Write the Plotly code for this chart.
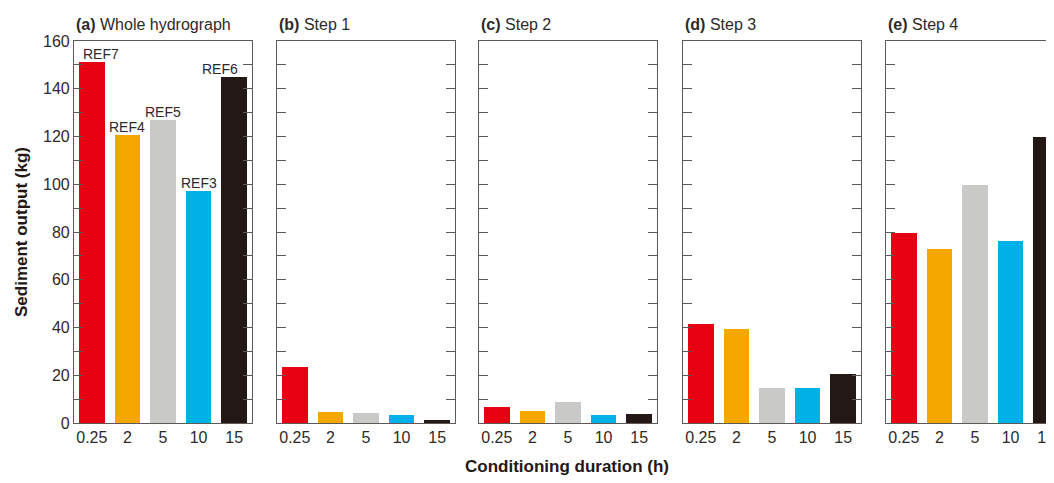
import plotly.graph_objects as go

categories = ["0.25", "2", "5", "10", "15"]
colors = ["#E60012", "#F5A700", "#C9C9C7", "#00B1E7", "#231815"]
panel_titles = ["(a)", "(b)", "(c)", "(d)", "(e)"]
panel_names = ["Whole hydrograph", "Step 1", "Step 2", "Step 3", "Step 4"]
whole = [151.0, 120.5, 127.0, 97.0, 145.0]
step1 = [23.3, 4.5, 4.0, 3.5, 1.2]
step2 = [6.8, 4.9, 8.7, 3.2, 3.8]
step3 = [41.4, 39.2, 14.8, 14.6, 20.6]
step4 = [79.6, 72.8, 99.6, 76.3, 120.0]
ref_labels = ["REF7", "REF4", "REF5", "REF3", "REF6"]
y_ticks = list(range(0, 161, 10))
y_ticktext = [str(v) if v % 20 == 0 else "" for v in y_ticks]

series = [whole, step1, step2, step3, step4]

# page has an 8px body margin; work in page pixels and convert
OFF = 8
PAGE_W, PAGE_H = 1054, 483
W, H = PAGE_W - OFF, PAGE_H - 2 * OFF


def fx(px):
    return (px - OFF) / W


def fy(py):
    return 1 - (py - OFF) / H


px_left = [74, 277, 479, 683, 886]
panel_w = 178
slot = panel_w / 5.0
top_px, bot_px = 41, 423
line_col = "#5e5858"
text_col = "#2e2a29"
FONT = "Liberation Sans, Arial, Helvetica, sans-serif"

fig = go.Figure()
for i, vals in enumerate(series):
    ax = "" if i == 0 else str(i + 1)
    fig.add_trace(go.Bar(
        x=categories, y=vals, marker=dict(color=colors, line=dict(width=0)),
        width=0.72, xaxis="x" + ax, yaxis="y" + ax, showlegend=False,
        hoverinfo="x+y"))
    x0 = px_left[i]
    x1 = min(x0 + panel_w, PAGE_W)
    xr_end = -0.5 + (x1 - x0) / slot
    last = (x0 + panel_w > PAGE_W)
    fig.layout["xaxis" + ax] = dict(
        domain=[fx(x0), fx(x1)], anchor="y" + ax, type="category",
        range=[-0.5, xr_end], showline=True, mirror=True, linecolor=line_col,
        linewidth=1.2, ticks="", showgrid=False, zeroline=False,
        automargin=False, ticklabeloverflow="allow",
        tickfont=dict(family=FONT, size=16, color=text_col))
    fig.layout["yaxis" + ax] = dict(
        domain=[fy(bot_px), fy(top_px)], anchor="x" + ax,
        range=[0, 160], showline=True, mirror=(False if last else "ticks"),
        linecolor=line_col, linewidth=1.2, ticks="inside", ticklen=9,
        tickwidth=1.2, tickcolor=line_col, tickmode="array",
        tickvals=y_ticks, ticktext=y_ticktext, showticklabels=(i == 0),
        showgrid=False, zeroline=False, automargin=False,
        tickfont=dict(family=FONT, size=16, color=text_col))

annotations = []
for i in range(5):
    annotations.append(dict(
        xref="paper", yref="paper", x=fx(px_left[i]), y=fy(35),
        xanchor="left", yanchor="bottom", showarrow=False,
        text="<b>" + panel_titles[i] + "</b> " + panel_names[i],
        font=dict(family=FONT, size=16, color=text_col)))

shifts = [9, 0, 0, 0, -14]
for j, lab in enumerate(ref_labels):
    annotations.append(dict(
        xref="x", yref="y", x=j, y=whole[j], xanchor="center",
        yanchor="bottom", showarrow=False, text=lab, xshift=shifts[j],
        yshift=-2, font=dict(family=FONT, size=14, color=text_col)))

annotations.append(dict(
    xref="paper", yref="paper", x=fx(21), y=fy(232), xanchor="center",
    yanchor="middle", textangle=-90, showarrow=False,
    text="<b>Sediment output (kg)</b>",
    font=dict(family=FONT, size=17, color="#231815")))
annotations.append(dict(
    xref="paper", yref="paper", x=fx(567), y=fy(466), xanchor="center",
    yanchor="middle", showarrow=False,
    text="<b>Conditioning duration (h)</b>",
    font=dict(family=FONT, size=17, color="#231815")))

fig.update_layout(
    width=W, height=H, margin=dict(l=0, r=0, t=0, b=0),
    paper_bgcolor="white", plot_bgcolor="white", bargap=0,
    annotations=annotations, font=dict(family=FONT, color=text_col))

fig.write_html("out.html", config={"responsive": False})
